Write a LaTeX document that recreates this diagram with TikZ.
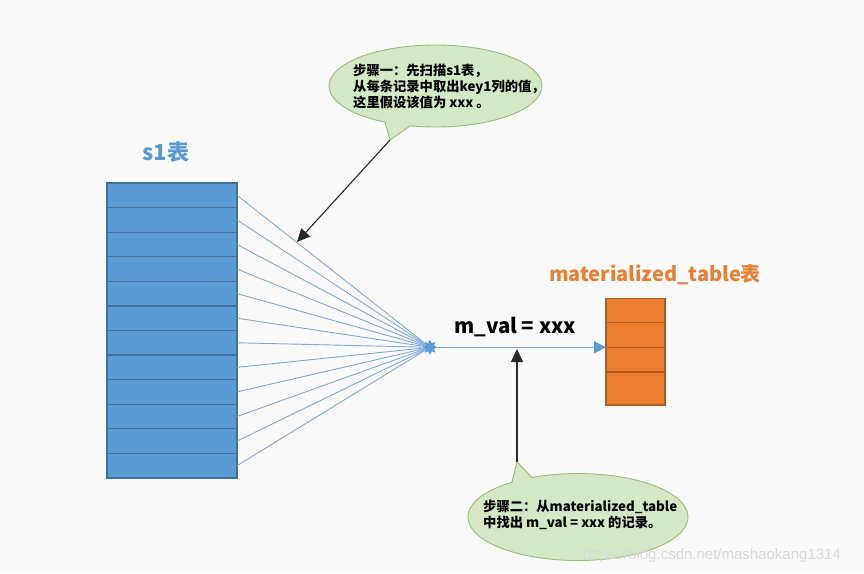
\documentclass[tikz,border=0pt]{standalone}
\usepackage{fontspec}
\setmainfont{Noto Sans CJK SC}
\newfontfamily\wmfont{Liberation Sans}
\usetikzlibrary{shapes.geometric,arrows.meta}
\definecolor{bg}{RGB}{250,250,250}
\definecolor{tblue}{RGB}{91,155,213}
\definecolor{tblueedge}{RGB}{65,113,156}
\definecolor{torange}{RGB}{237,125,49}
\definecolor{torangeedge}{RGB}{174,90,33}
\definecolor{lineblue}{RGB}{125,172,218}
\definecolor{cfill}{RGB}{213,232,197}
\definecolor{cedge}{RGB}{150,190,120}
\definecolor{laborange}{RGB}{232,128,56}
\begin{document}
\begin{tikzpicture}[x=1pt,y=-1pt,
  bluerow/.style={draw=tblueedge, fill=tblue, line width=1.3pt, minimum width=130pt, minimum height=24.58pt, inner sep=0pt, outer sep=0pt},
  orangerow/.style={draw=torangeedge, fill=torange, line width=1.3pt, minimum width=59pt, inner sep=0pt, outer sep=0pt},
  fanline/.style={draw=lineblue, line width=0.9pt},
  callout/.style={fill=cfill, draw=cedge, line width=0.9pt},
  calltext/.style={anchor=base west, align=left, inner sep=0pt, font=\fontsize{13.3}{16.2}\selectfont\bfseries},
  pointer/.style={draw={rgb,255:red,40;green,40;blue,40}, line width=1.1pt, -{Triangle[length=13pt,width=12pt]}},
  biglabel/.style={font=\fontsize{20}{24}\selectfont\bfseries, inner sep=0pt}
]
\useasboundingbox[fill=bg] (0,0) rectangle (864,573);

% s1 table
\foreach \i in {1,...,12}
  \node[bluerow] (r\i) at (172, {183+24.58*(\i-0.5)}) {};
\node[biglabel, text=tblue, font=\fontsize{22}{26}\selectfont\bfseries] (s1lab) at (166,152) {s1表};

% materialized table
\node[orangerow, minimum height=24.5pt] (o1) at (635.5, 310.55) {};
\node[orangerow, minimum height=24.5pt] (o2) at (635.5, 335.05) {};
\node[orangerow, minimum height=24.5pt] (o3) at (635.5, 359.55) {};
\node[orangerow, minimum height=33pt] (o4) at (635.5, 388.55) {};
\node[biglabel, text=laborange] (mlab) at (655,275) {materialized\_table表};

% hub
\node[star, star points=8, star point ratio=1.7, fill=tblue, minimum size=15pt, inner sep=0pt] (hub) at (430,347.3) {};
\foreach \i in {1,...,12}
  \draw[fanline] (r\i.east) -- (hub);
\draw[fanline, -{Triangle[length=12pt,width=12pt,color=tblue]}] (hub) -- (o2.south west);
\node[font=\fontsize{20.5}{24}\selectfont\bfseries, inner sep=0pt] (mval) at (515,327) {m\_val = xxx};

% callout 1
\coordinate (c1tip) at (390,140);
\path[callout] (c1tip) -- (385,122.1) arc[start angle=118.3, end angle=463.8, x radius=106.5, y radius=41] -- cycle;
\node[calltext] (t1) at (353,107.4) {步骤一：先扫描s1表，\\从每条记录中取出key1列的值，\\这里假设该值为 xxx 。};
\coordinate (a1end) at (297,242);
\draw[pointer] (c1tip) -- (a1end);

% callout 2
\coordinate (c2tip) at (517,462);
\path[callout] (c2tip) -- (532,477.5) arc[start angle=245.3, end angle=593.1, x radius=110, y radius=43.5] -- cycle;
\node[calltext] (t2) at (483,527.7) {步骤二：从materialized\_table\\中找出 m\_val = xxx 的记录。};
\coordinate (a2end) at (517,349);
\draw[pointer] (c2tip) -- (a2end);

% watermark
\node[anchor=base west, inner sep=0pt, text=gray!30, font=\wmfont\fontsize{15}{18}\selectfont] (wm) at (583,559) {https://blog.csdn.net/mashaokang1314};
\end{tikzpicture}
\end{document}
